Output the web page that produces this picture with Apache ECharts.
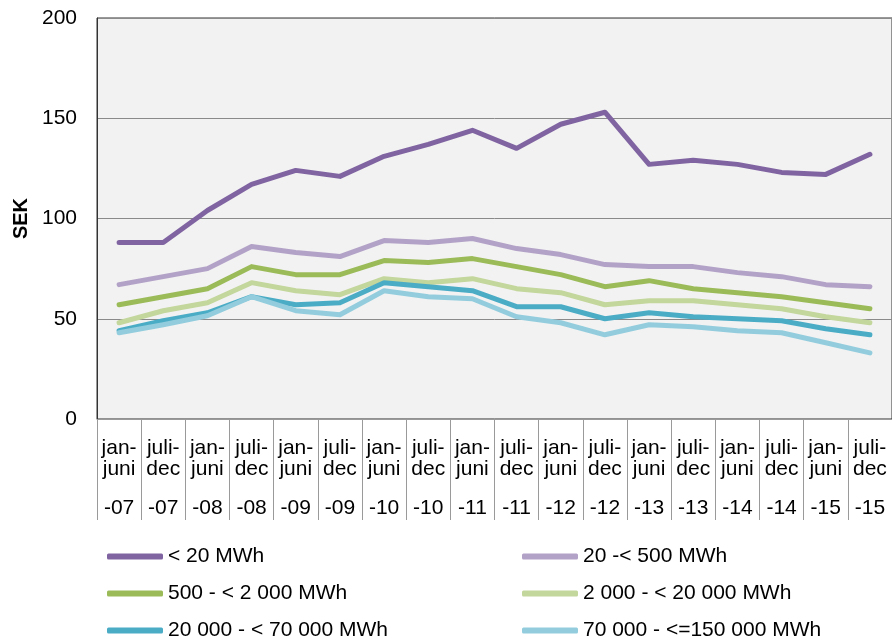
<!DOCTYPE html>
<html>
<head>
<meta charset="utf-8">
<script src="https://cdn.jsdelivr.net/npm/echarts@6/dist/echarts.min.js"></script>
<style>
    html, body { margin: 0; padding: 0; background: #fff; }
    #chart { width: 892px; height: 642px; }
</style>
</head>
<body>
<div id="chart"></div>
<script>
// categories: half year + year
const categories = [
    'jan-juni -07', 'juli-dec -07', 'jan-juni -08', 'juli-dec -08',
    'jan-juni -09', 'juli-dec -09', 'jan-juni -10', 'juli-dec -10',
    'jan-juni -11', 'juli-dec -11', 'jan-juni -12', 'juli-dec -12',
    'jan-juni -13', 'juli-dec -13', 'jan-juni -14', 'juli-dec -14',
    'jan-juni -15', 'juli-dec -15'
]

const seriesNames = [
    '< 20 MWh', '20 -< 500 MWh', '500 - < 2 000 MWh',
    '2 000 - < 20 000 MWh', '20 000 - < 70 000 MWh', '70 000 - <=150 000 MWh'
]

const under20 = [88, 88, 104, 117, 124, 121, 131, 137, 144, 135, 147, 153, 127, 129, 127, 123, 122, 132]
const from20to500 = [67, 71, 75, 86, 83, 81, 89, 88, 90, 85, 82, 77, 76, 76, 73, 71, 67, 66]
const from500to2000 = [57, 61, 65, 76, 72, 72, 79, 78, 80, 76, 72, 66, 69, 65, 63, 61, 58, 55]
const from2000to20000 = [48, 54, 58, 68, 64, 62, 70, 68, 70, 65, 63, 57, 59, 59, 57, 55, 51, 48]
const from20000to70000 = [44, 49, 53, 61, 57, 58, 68, 66, 64, 56, 56, 50, 53, 51, 50, 49, 45, 42]
const from70000to150000 = [43, 47, 51.5, 61, 54, 52, 64, 61, 60, 51, 48, 42, 47, 46, 44, 43, 38, 33]

const yTicks = [0, 50, 100, 150, 200]

const colors = ['#8064a2', '#b3a2c7', '#9bbb59', '#c3d69b', '#4bacc6', '#93cddd']
const values = [under20, from20to500, from500to2000, from2000to20000, from20000to70000, from70000to150000]

const font = '"Liberation Sans", Arial, sans-serif'

const myChart = echarts.init(document.getElementById('chart'))

const legendBase = {
    orient: 'vertical',
    top: 546,
    height: 100,
    padding: 0,
    icon: 'roundRect',
    itemWidth: 56,
    itemHeight: 6,
    itemGap: 16,
    textStyle: {
        color: '#000',
        fontFamily: font,
        fontSize: 21,
        lineHeight: 21
    }
}

const option = {
    animation: false,
    textStyle: { fontFamily: font },
    legend: [
        Object.assign({}, legendBase, { left: 107, data: [seriesNames[0], seriesNames[2], seriesNames[4]] }),
        Object.assign({}, legendBase, { left: 522, data: [seriesNames[1], seriesNames[3], seriesNames[5]] })
    ],
    grid: {
        left: 97,
        top: 18,
        right: 0,
        bottom: 223,
        show: true,
        backgroundColor: '#f2f2f2',
        borderColor: '#333',
        borderWidth: 1
    },
    xAxis: {
        type: 'category',
        data: categories,
        boundaryGap: true,
        axisLine: { lineStyle: { color: '#9a9a9a', width: 1 } },
        axisTick: {
            show: true,
            interval: 0,
            length: 101,
            lineStyle: { color: '#9a9a9a', width: 1 }
        },
        axisLabel: {
            interval: 0,
            margin: 19,
            color: '#000',
            formatter: function (value) {
                const parts = value.split(' ')
                const half = parts[0].split('-')
                return '{a|' + half[0] + '-}\n{a|' + half[1] + '}\n{b|' + parts[1] + '}'
            },
            rich: {
                a: { fontSize: 21, lineHeight: 21, color: '#000', fontFamily: font },
                b: { fontSize: 21, lineHeight: 57, color: '#000', fontFamily: font }
            }
        }
    },
    yAxis: {
        type: 'value',
        min: yTicks[0],
        max: yTicks[yTicks.length - 1],
        interval: 50,
        name: 'SEK',
        nameLocation: 'middle',
        nameGap: 65,
        nameTextStyle: {
            color: '#000',
            fontWeight: 'bold',
            fontSize: 20,
            fontFamily: font
        },
        axisLine: { show: true, lineStyle: { color: '#333' } },
        axisTick: { show: false },
        axisLabel: {
            color: '#000',
            fontSize: 21,
            margin: 20,
            fontFamily: font
        },
        splitLine: {
            lineStyle: { color: '#8a8a8a', width: 1 }
        }
    },
    series: values.map((data, i) => ({
        name: seriesNames[i],
        type: 'line',
        data: data,
        symbol: 'none',
        color: colors[i],
        lineStyle: {
            color: colors[i],
            width: 5,
            cap: 'round',
            join: 'round'
        }
    }))
}

myChart.setOption(option)
</script>
</body>
</html>
